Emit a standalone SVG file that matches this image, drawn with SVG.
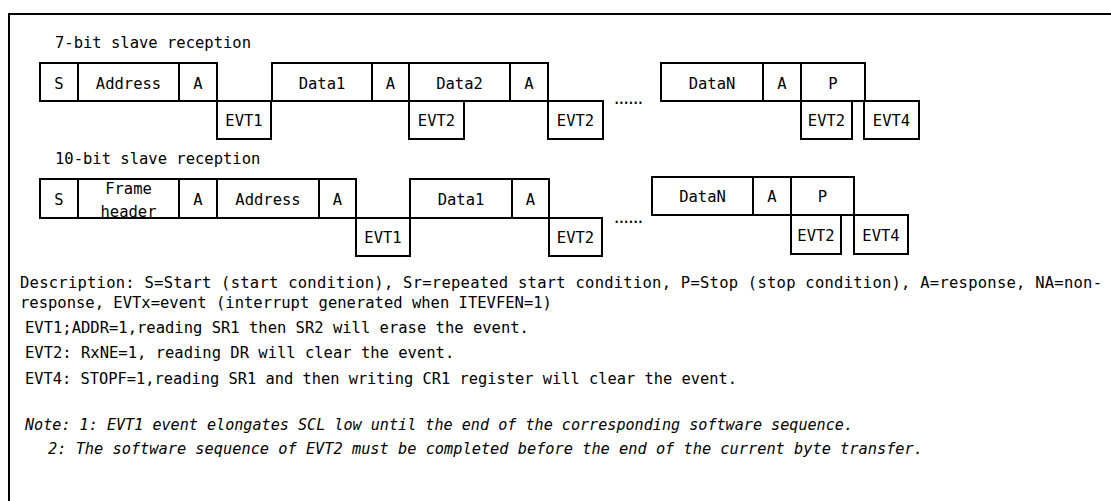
<svg xmlns="http://www.w3.org/2000/svg" width="1111" height="501" viewBox="0 0 1111 501">
<style>
.bx{fill:#fff;stroke:#000;stroke-width:2}
.ln{stroke:#000;stroke-width:2;fill:none}
.t{font-family:"DejaVu Sans Mono","Liberation Mono",monospace;font-size:15.5px;fill:#000}
.c{text-anchor:middle}
.i{font-style:italic}
</style>
<rect width="1111" height="501" fill="#fff"/>
<path class="ln" d="M9,501 V14 H1111"/>

<text class="t" x="55" y="48">7-bit slave reception</text>
<text class="t" x="55" y="164">10-bit slave reception</text>

<!-- Row 1 -->
<g id="r1-S"><rect class="bx" x="40" y="63" width="38" height="38"/><text class="t c" x="59" y="88.5">S</text></g>
<g id="r1-Address"><rect class="bx" x="78" y="63" width="101" height="38"/><text class="t c" x="128.5" y="88.5">Address</text></g>
<g id="r1-A1"><rect class="bx" x="179" y="63" width="38" height="38"/><text class="t c" x="198" y="88.5">A</text></g>
<g id="r1-EVT1"><rect class="bx" x="217" y="101" width="54" height="38"/><text class="t c" x="244" y="126">EVT1</text></g>
<g id="r1-Data1"><rect class="bx" x="272" y="63" width="100" height="38"/><text class="t c" x="322" y="88.5">Data1</text></g>
<g id="r1-A2"><rect class="bx" x="372" y="63" width="37" height="38"/><text class="t c" x="390.5" y="88.5">A</text></g>
<g id="r1-Data2"><rect class="bx" x="409" y="63" width="101" height="38"/><text class="t c" x="459.5" y="88.5">Data2</text></g>
<g id="r1-EVT2a"><rect class="bx" x="409" y="101" width="55" height="38"/><text class="t c" x="436.5" y="126">EVT2</text></g>
<g id="r1-A3"><rect class="bx" x="510" y="63" width="38" height="38"/><text class="t c" x="529" y="88.5">A</text></g>
<g id="r1-EVT2b"><rect class="bx" x="548" y="101" width="55" height="38"/><text class="t c" x="575.5" y="126">EVT2</text></g>
<g id="r1-dots"><text class="t" x="612" y="104" textLength="33" lengthAdjust="spacing">......</text></g>
<g id="r1-DataN"><rect class="bx" x="661" y="63" width="102" height="38"/><text class="t c" x="712" y="88.5">DataN</text></g>
<g id="r1-A4"><rect class="bx" x="763" y="63" width="38" height="38"/><text class="t c" x="782" y="88.5">A</text></g>
<g id="r1-P"><rect class="bx" x="801" y="63" width="64" height="38"/><text class="t c" x="833" y="88.5">P</text></g>
<g id="r1-EVT2c"><rect class="bx" x="801" y="101" width="51" height="38"/><text class="t c" x="826.5" y="126">EVT2</text></g>
<g id="r1-EVT4"><rect class="bx" x="864" y="101" width="55" height="38"/><text class="t c" x="891.5" y="126">EVT4</text></g>

<!-- Row 2 -->
<g id="r2-S"><rect class="bx" x="40" y="179" width="38" height="39"/><text class="t c" x="59" y="204.5">S</text></g>
<g id="r2-Frame"><rect class="bx" x="78" y="179" width="101" height="39"/><text class="t c" x="128.5" y="194">Frame</text><text class="t c" x="128.5" y="217">header</text></g>
<g id="r2-A1"><rect class="bx" x="179" y="179" width="38" height="39"/><text class="t c" x="198" y="204.5">A</text></g>
<g id="r2-Address"><rect class="bx" x="217" y="179" width="102" height="39"/><text class="t c" x="268" y="204.5">Address</text></g>
<g id="r2-A2"><rect class="bx" x="319" y="179" width="37" height="39"/><text class="t c" x="337.5" y="204.5">A</text></g>
<g id="r2-EVT1"><rect class="bx" x="356" y="218" width="54" height="38"/><text class="t c" x="383" y="243">EVT1</text></g>
<g id="r2-Data1"><rect class="bx" x="410" y="179" width="102" height="39"/><text class="t c" x="461" y="204.5">Data1</text></g>
<g id="r2-A3"><rect class="bx" x="512" y="179" width="37" height="39"/><text class="t c" x="530.5" y="204.5">A</text></g>
<g id="r2-EVT2a"><rect class="bx" x="549" y="218" width="53" height="38"/><text class="t c" x="575.5" y="243">EVT2</text></g>
<g id="r2-dots"><text class="t" x="612" y="223" textLength="33" lengthAdjust="spacing">......</text></g>
<g id="r2-DataN"><rect class="bx" x="652" y="177" width="101" height="38"/><text class="t c" x="702.5" y="202">DataN</text></g>
<g id="r2-A4"><rect class="bx" x="753" y="177" width="38" height="38"/><text class="t c" x="772" y="202">A</text></g>
<g id="r2-P"><rect class="bx" x="791" y="177" width="63" height="38"/><text class="t c" x="822.5" y="202">P</text></g>
<g id="r2-EVT2b"><rect class="bx" x="791" y="215" width="50" height="39"/><text class="t c" x="816" y="240.5">EVT2</text></g>
<g id="r2-EVT4"><rect class="bx" x="854" y="215" width="54" height="39"/><text class="t c" x="881" y="240.5">EVT4</text></g>

<g id="connectors"></g>

<g id="legend">
<text class="t" x="20" y="288" textLength="1082" lengthAdjust="spacing">Description: S=Start (start condition), Sr=repeated start condition, P=Stop (stop condition), A=response, NA=non-</text>
<text class="t" x="20" y="308">response, EVTx=event (interrupt generated when ITEVFEN=1)</text>
<text class="t" x="25" y="333">EVT1;ADDR=1,reading SR1 then SR2 will erase the event.</text>
<text class="t" x="25" y="358">EVT2: RxNE=1, reading DR will clear the event.</text>
<text class="t" x="25" y="384" textLength="712" lengthAdjust="spacingAndGlyphs">EVT4: STOPF=1,reading SR1 and then writing CR1 register will clear the event.</text>
<text class="t i" x="25" y="430" textLength="828" lengthAdjust="spacingAndGlyphs">Note: 1: EVT1 event elongates SCL low until the end of the corresponding software sequence.</text>
<text class="t i" x="48" y="454" textLength="875" lengthAdjust="spacingAndGlyphs">2: The software sequence of EVT2 must be completed before the end of the current byte transfer.</text>
</g>
</svg>
